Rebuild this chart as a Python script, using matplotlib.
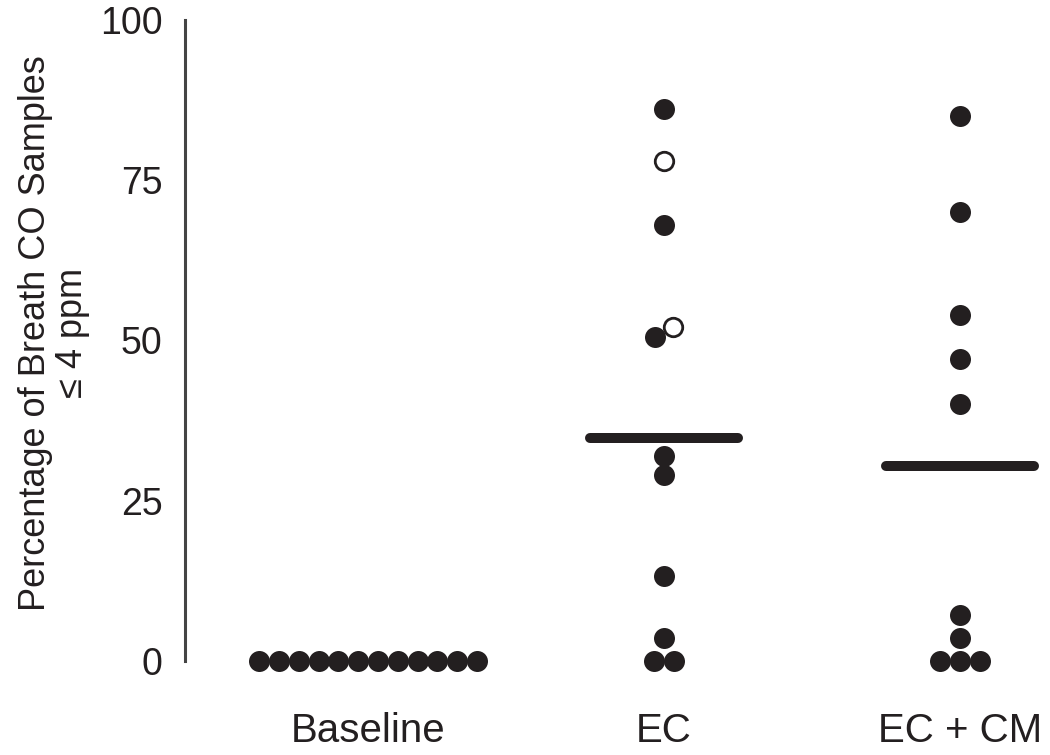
import numpy as np
import matplotlib
matplotlib.use("Agg")
import matplotlib.pyplot as plt

plt.rcParams['font.family'] = ['Liberation Sans', 'DejaVu Sans']

# ---- data ----
categories = ["Baseline", "EC", "EC + CM"]
baseline_vals = [0, 0, 0, 0, 0, 0, 0, 0, 0, 0, 0, 0]
ec_vals = [86, 78, 68, 52, 50.5, 32, 29, 13.3, 3.6, 0, 0]
ec_open = [False, True, False, True, False, False, False, False, False, False, False]
eccm_vals = [85, 70, 54, 47, 40, 7.2, 3.6, 0, 0, 0]
eccm_open = [False] * 10
baseline_open = [False] * 12
median_vals = [None, 34.8, 30.4]
yticks = [0, 25, 50, 75, 100]

groups = [baseline_vals, ec_vals, eccm_vals]
opens = [baseline_open, ec_open, eccm_open]

DARK = '#231f20'
W, H = 1050, 755
fig = plt.figure(figsize=(W / 100, H / 100), dpi=100)
ax_left, ax_right = 185 / W, 1.0
ax_bottom, ax_top = (H - 661) / H, (H - 19.5) / H
ax = fig.add_axes([ax_left, ax_bottom, ax_right - ax_left, ax_top - ax_bottom])

xlim = (-183 / 296, 2 + 90 / 296)
ylim = (0, 100)
ax.set_xlim(*xlim)
ax.set_ylim(*ylim)

# pixel scale for swarm layout
px_per_x = (ax_right - ax_left) * W / (xlim[1] - xlim[0])
px_per_y = (ax_top - ax_bottom) * H / (ylim[1] - ylim[0])
diam_px = 21.0
spacing_px = 19.8

def swarm_offsets(vals):
    vals = np.asarray(vals, dtype=float)
    order = np.argsort(vals)
    offsets = np.zeros(len(vals))
    rows = []
    cur = [order[0]]
    for idx in order[1:]:
        if (vals[idx] - vals[cur[0]]) * px_per_y < 15:
            cur.append(idx)
        else:
            rows.append(cur)
            cur = [idx]
    rows.append(cur)
    for row in rows:
        n = len(row)
        dy = (vals[row[-1]] - vals[row[0]]) * px_per_y
        sp = np.sqrt(max(spacing_px ** 2 - dy ** 2, 0)) if dy > 0 else spacing_px
        for i, idx in enumerate(row):
            offsets[idx] = (i - (n - 1) / 2) * sp / px_per_x
    return offsets

ms = diam_px * 72 / 100
for gi, (vals, op) in enumerate(zip(groups, opens)):
    offs = swarm_offsets(vals)
    for v, o, is_open in zip(vals, offs, op):
        if is_open:
            ax.plot(gi + o, v, 'o', ms=ms * 0.88, mfc='white', mec=DARK, mew=2.0,
                    clip_on=False, zorder=4)
        else:
            ax.plot(gi + o, v, 'o', ms=ms, mfc=DARK, mec=DARK, mew=0,
                    clip_on=False, zorder=3)

for gi, m in enumerate(median_vals):
    if m is None:
        continue
    ax.plot([gi - 0.25, gi + 0.25], [m, m], color=DARK, lw=7.2,
            solid_capstyle='round', zorder=2, clip_on=False)

for s in ['top', 'right', 'bottom']:
    ax.spines[s].set_visible(False)
ax.spines['left'].set_color('#444444')
ax.spines['left'].set_linewidth(2.2)

ax.set_yticks(yticks)
ax.set_yticklabels([str(t) for t in yticks])
ax.set_xticks(range(len(categories)))
ax.set_xticklabels(categories)
ax.tick_params(axis='y', length=0, pad=16, labelsize=27, labelcolor=DARK)
ax.tick_params(axis='x', length=0, pad=37, labelsize=29, labelcolor=DARK)

fig.text(54 / W, 1 - 333 / H, "Percentage of Breath CO Samples\n\u2264 4 ppm",
         rotation=90, ha='center', va='center', multialignment='center',
         fontsize=26, color=DARK, linespacing=1.1)

fig.savefig('out.png', dpi=100, facecolor='white')
